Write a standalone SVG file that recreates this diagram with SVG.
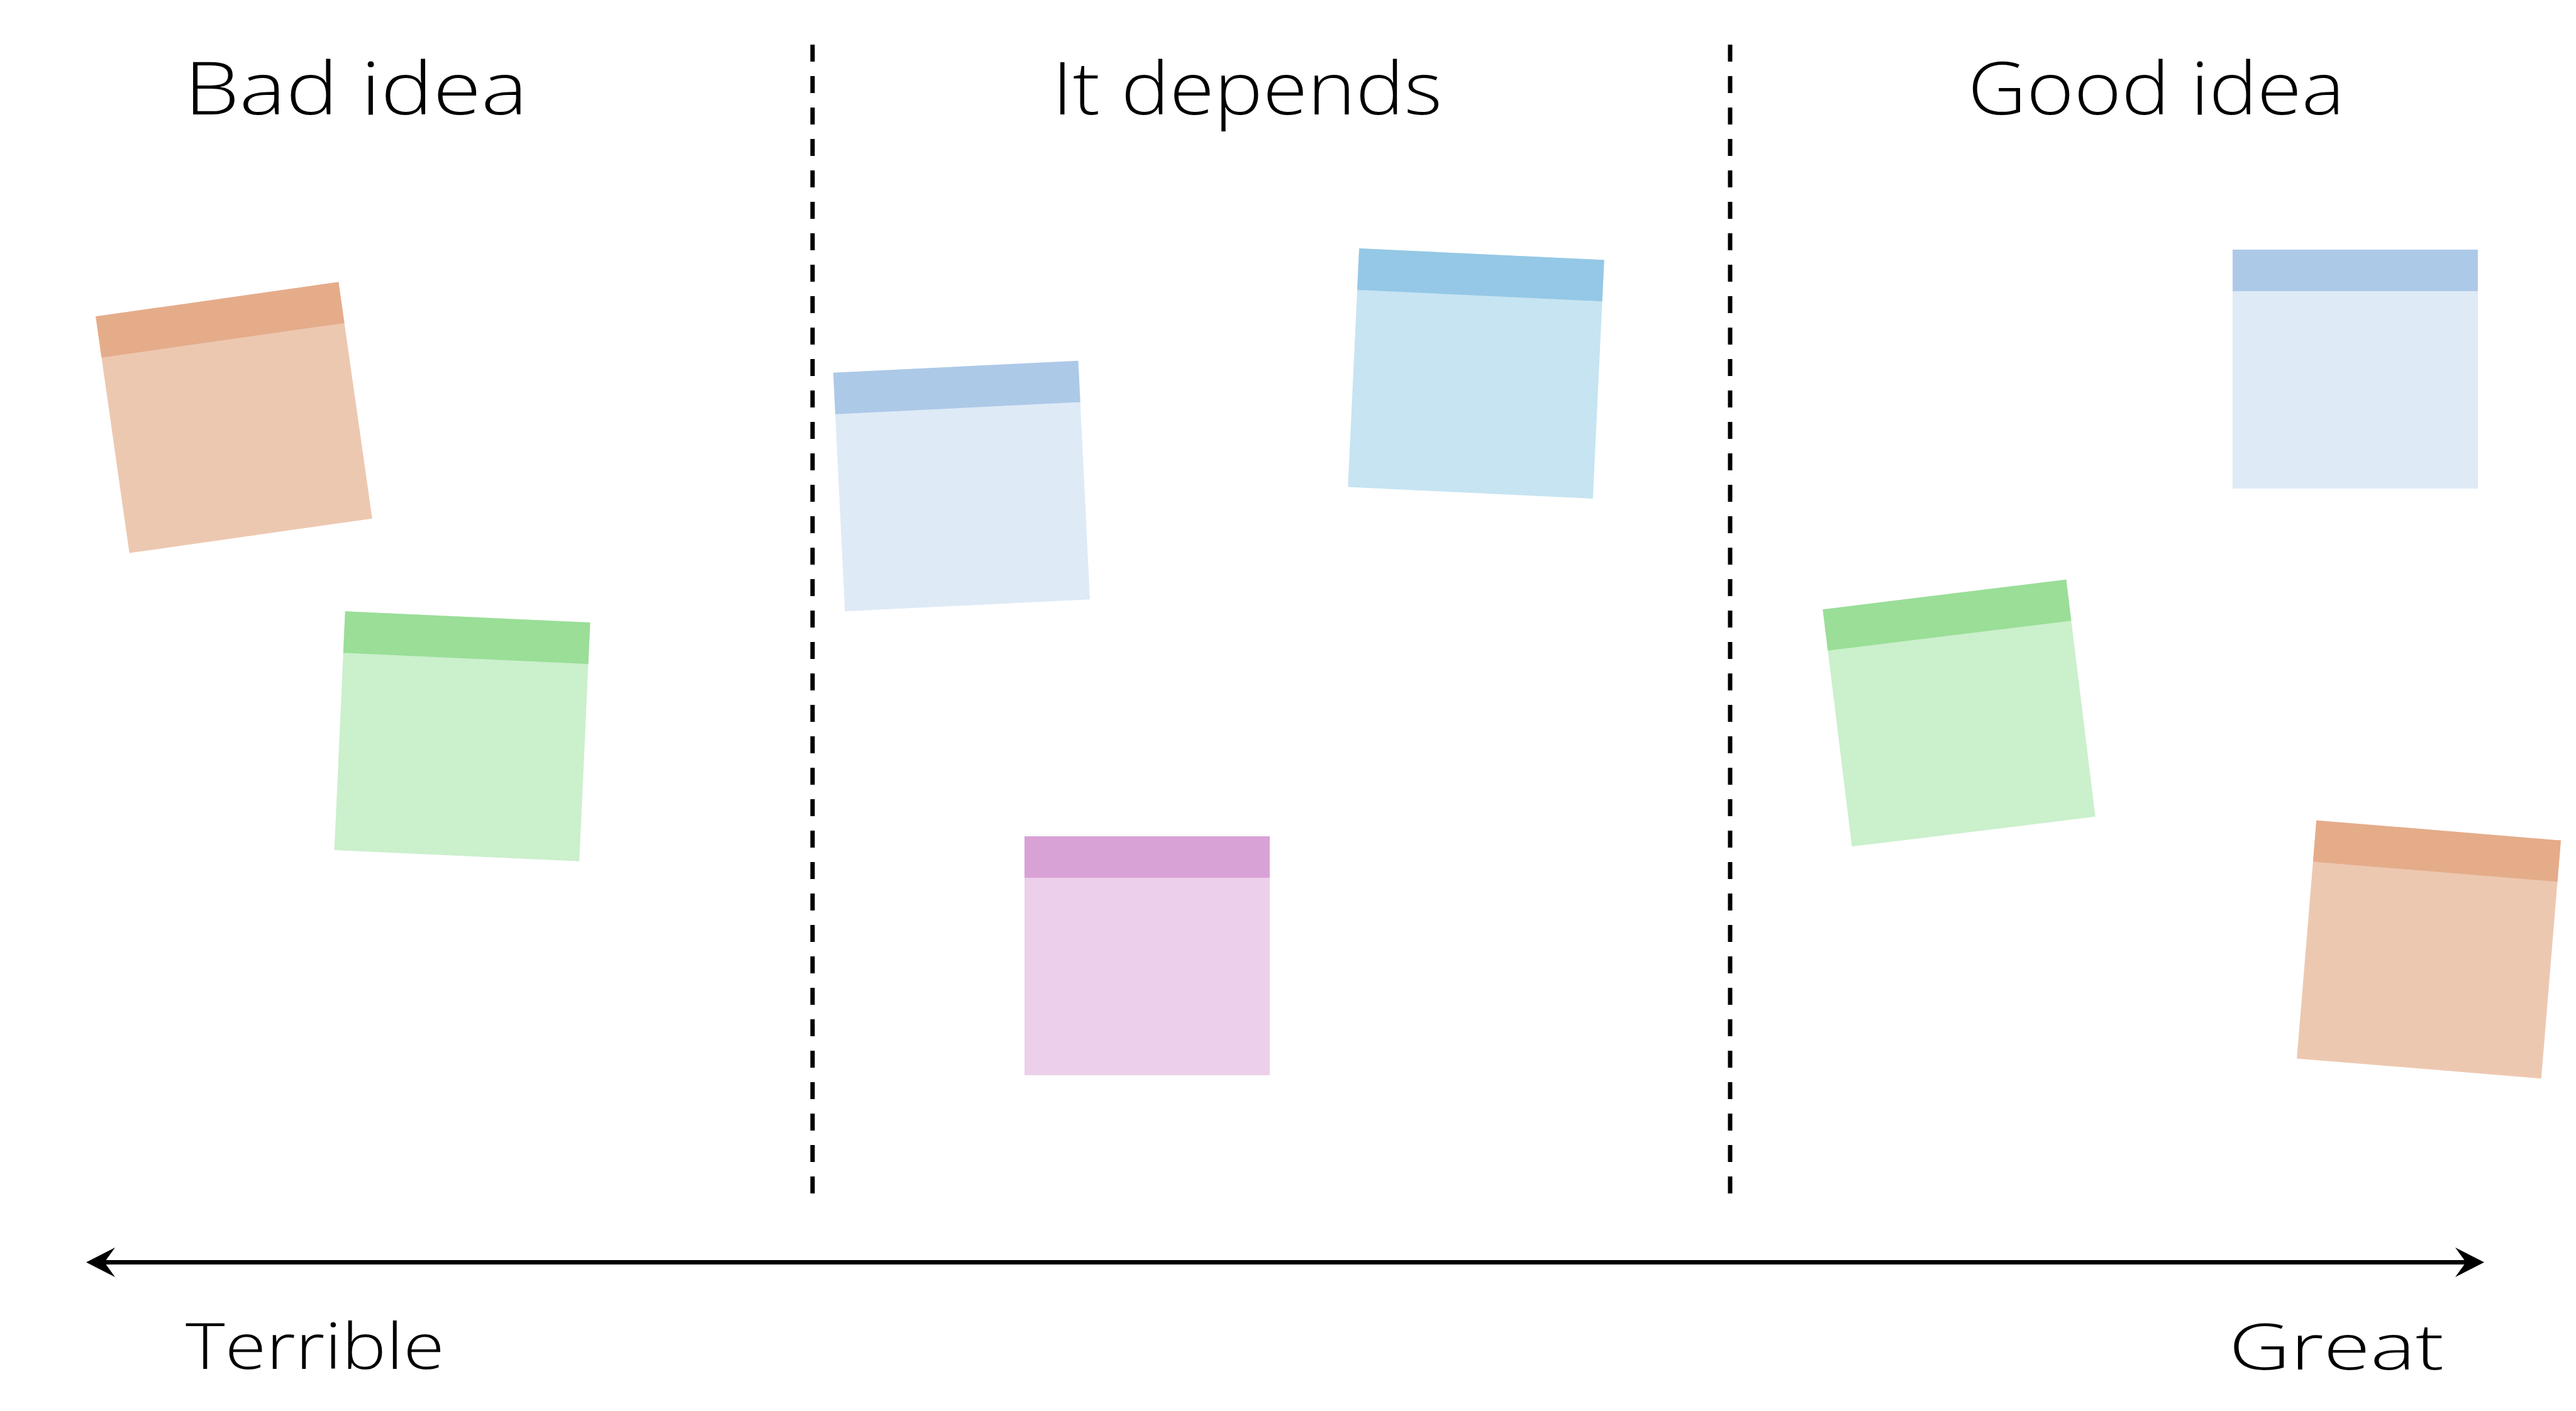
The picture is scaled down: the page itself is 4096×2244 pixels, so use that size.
<svg xmlns="http://www.w3.org/2000/svg" width="4096" height="2244" viewBox="0 0 4096 2244">
<style>
.lbl{font-family:"Open Sans","Lato","Liberation Sans",sans-serif;font-weight:300;fill:#000}
.title{font-size:116px}
.end{font-size:102px}
.divider{stroke:#000;stroke-width:7;stroke-dasharray:27 23;fill:none}
.axis{stroke:#000;stroke-width:7;fill:none}
.orange .body{fill:#EDC8B1}.orange .head{fill:#E5AC8A}
.green .body{fill:#CBF0CC}.green .head{fill:#9ADE98}
.lblue .body{fill:#DEEAF6}.lblue .head{fill:#ADC9E8}
.sblue .body{fill:#C7E4F2}.sblue .head{fill:#94C8E6}
.purple .body{fill:#ECD0EB}.purple .head{fill:#D9A2D7}
</style>
<defs>
<marker id="arrow" viewBox="0 0 46 47" refX="23" refY="23.5" markerWidth="46" markerHeight="47" markerUnits="userSpaceOnUse" orient="auto-start-reverse">
<path d="M0,0 L46,23.5 L0,47 L17,23.5 Z" fill="#000"/>
</marker>
</defs>
<rect x="0" y="0" width="4096" height="2244" fill="#fff"/>

<g id="labels">
<text id="label-bad" class="lbl title" x="293" y="182" textLength="546" lengthAdjust="spacingAndGlyphs">Bad idea</text>
<text id="label-depends" class="lbl title" x="1673" y="182" textLength="620" lengthAdjust="spacingAndGlyphs">It depends</text>
<text id="label-good" class="lbl title" x="3129" y="182" textLength="599" lengthAdjust="spacingAndGlyphs">Good idea</text>
<text id="label-terrible" class="lbl end" x="295" y="2177" textLength="412" lengthAdjust="spacingAndGlyphs">Terrible</text>
<text id="label-great" class="lbl end" x="3544" y="2178" textLength="342" lengthAdjust="spacingAndGlyphs">Great</text>
</g>

<g id="dividers">
<line class="divider" x1="1292" y1="71" x2="1292" y2="1898"/>
<line class="divider" x1="2751" y1="71" x2="2751" y2="1898"/>
</g>

<g id="note-bad-1" class="orange" transform="translate(372,664) rotate(-8.1)">
<rect class="body" x="-195" y="-190" width="390" height="380"/><rect class="head" x="-195" y="-190" width="390" height="66"/></g>
<g id="note-bad-2" class="green" transform="translate(735,1171) rotate(2.6)">
<rect class="body" x="-195" y="-190" width="390" height="380"/><rect class="head" x="-195" y="-190" width="390" height="66"/></g>
<g id="note-mid-1" class="lblue" transform="translate(1529,773) rotate(-2.8)">
<rect class="body" x="-195" y="-190" width="390" height="380"/><rect class="head" x="-195" y="-190" width="390" height="66"/></g>
<g id="note-mid-2" class="sblue" transform="translate(2347,594) rotate(2.7)">
<rect class="body" x="-195" y="-190" width="390" height="380"/><rect class="head" x="-195" y="-190" width="390" height="66"/></g>
<g id="note-mid-3" class="purple" transform="translate(1824,1520)">
<rect class="body" x="-195" y="-190" width="390" height="380"/><rect class="head" x="-195" y="-190" width="390" height="66"/></g>
<g id="note-good-1" class="lblue" transform="translate(3745,587)">
<rect class="body" x="-195" y="-190" width="390" height="380"/><rect class="head" x="-195" y="-190" width="390" height="66"/></g>
<g id="note-good-2" class="green" transform="translate(3115,1134) rotate(-7)">
<rect class="body" x="-195" y="-190" width="390" height="380"/><rect class="head" x="-195" y="-190" width="390" height="66"/></g>
<g id="note-good-3" class="orange" transform="translate(3862,1510) rotate(4.7)">
<rect class="body" x="-195" y="-190" width="390" height="380"/><rect class="head" x="-195" y="-190" width="390" height="66"/></g>

<g id="connectors">
<line class="axis" x1="160" y1="2007.5" x2="3927" y2="2007.5" marker-start="url(#arrow)" marker-end="url(#arrow)"/>
</g>
</svg>
